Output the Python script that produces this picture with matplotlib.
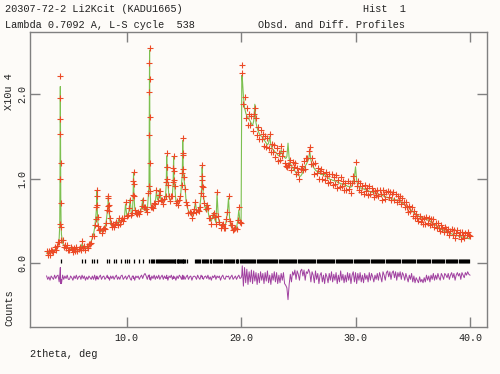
import numpy as np
import matplotlib
matplotlib.use("Agg")
import matplotlib.pyplot as plt

plt.rcParams['font.family'] = ['Liberation Mono', 'DejaVu Sans Mono']

# ---------------- data ----------------
tth_start, tth_step = 3.0, 0.1   # scan start / step (deg 2theta)

# calculated profile (x10^4 counts) on the scan grid
calc_grid = [
    0.12,0.12,0.13,0.13,0.14,0.14,0.15,0.16,0.17,0.19,   # 3
    0.22,0.30,2.09,0.34,0.24,0.21,0.20,0.19,0.19,0.18,   # 4
    0.18,0.17,0.17,0.16,0.16,0.16,0.16,0.16,0.16,0.17,   # 5
    0.18,0.23,0.19,0.18,0.19,0.19,0.20,0.21,0.23,0.26,   # 6
    0.30,0.34,0.42,0.55,0.85,0.46,0.38,0.37,0.38,0.39,   # 7
    0.40,0.42,0.48,0.60,0.80,0.56,0.46,0.44,0.44,0.45,   # 8
    0.46,0.46,0.47,0.52,0.48,0.49,0.50,0.52,0.54,0.70,   # 9
    0.58,0.56,0.62,0.76,0.60,0.58,1.07,0.66,0.58,0.58,   # 10
    0.59,0.60,0.61,0.65,0.76,0.64,0.62,0.62,0.63,0.80,   # 11
    2.52,0.70,0.65,0.66,0.68,0.72,0.85,0.75,0.78,0.88,   # 12
    0.74,0.72,0.72,0.74,0.80,1.27,0.95,0.78,0.74,0.76,   # 13
    0.82,1.25,0.90,0.74,0.72,0.70,0.72,0.78,0.95,1.45,   # 14
    1.00,0.90,0.72,0.66,0.62,0.60,0.58,0.57,0.58,0.62,   # 15
    0.72,0.63,0.60,0.62,0.68,0.80,1.14,0.82,0.70,0.62,   # 16
    0.70,0.62,0.55,0.52,0.50,0.55,0.60,0.52,0.48,0.82,   # 17
    0.56,0.47,0.45,0.44,0.43,0.43,0.44,0.50,0.60,0.77,   # 18
    0.52,0.44,0.42,0.41,0.40,0.40,0.42,0.50,0.63,0.50,   # 19
    0.48,2.20,1.98,1.84,1.78,1.74,1.72,1.70,1.68,1.65,   # 20
    1.63,1.68,1.88,1.66,1.60,1.56,1.53,1.51,1.50,1.48,   # 21
    1.46,1.44,1.42,1.40,1.42,1.50,1.40,1.36,1.34,1.33,   # 22
    1.31,1.30,1.28,1.27,1.28,1.34,1.30,1.27,1.25,1.24,   # 23
    1.26,1.42,1.24,1.18,1.15,1.13,1.11,1.09,1.07,1.05,   # 24
    1.04,1.03,1.03,1.05,1.08,1.12,1.15,1.17,1.20,1.23,   # 25
    1.32,1.22,1.17,1.14,1.12,1.10,1.09,1.08,1.07,1.06,   # 26
    1.05,1.05,1.04,1.06,1.03,1.02,1.01,1.00,0.99,0.99,   # 27
    0.98,0.98,0.97,0.98,0.96,0.95,0.95,0.94,0.94,0.93,   # 28
    0.93,0.92,0.92,0.91,0.91,0.90,0.90,0.92,0.96,1.02,   # 29
    1.14,0.98,0.92,0.90,0.89,0.89,0.88,0.88,0.87,0.87,   # 30
    0.86,0.86,0.85,0.85,0.84,0.84,0.83,0.83,0.83,0.82,   # 31
    0.82,0.81,0.81,0.80,0.80,0.79,0.79,0.78,0.78,0.77,   # 32
    0.77,0.77,0.76,0.76,0.75,0.75,0.75,0.74,0.74,0.73,   # 33
    0.72,0.71,0.70,0.69,0.68,0.67,0.66,0.65,0.64,0.62,   # 34
    0.61,0.60,0.59,0.58,0.57,0.56,0.55,0.54,0.54,0.53,   # 35
    0.53,0.52,0.52,0.51,0.51,0.50,0.49,0.48,0.47,0.46,   # 36
    0.45,0.44,0.43,0.42,0.41,0.40,0.40,0.39,0.38,0.37,   # 37
    0.37,0.36,0.36,0.35,0.35,0.34,0.34,0.33,0.33,0.33,   # 38
    0.32,0.32,0.31,0.31,0.31,0.30,0.30,0.30,0.30,0.29,   # 39
    0.29,                                                # 40
]

# difference (obs - calc) on the scan grid
diff_grid = [
    0.02,-0.02,0.01,-0.03,0.02,0.00,-0.02,0.03,-0.01,0.02,     # 3
    0.03,-0.05,0.12,-0.07,0.03,-0.02,0.02,-0.01,0.03,-0.02,    # 4
    -0.02,0.02,0.00,-0.03,0.02,-0.01,0.03,-0.02,0.01,0.02,     # 5
    -0.02,0.03,-0.01,0.02,-0.03,0.01,-0.02,0.02,0.00,-0.02,    # 6
    0.02,-0.02,0.03,-0.03,0.02,-0.02,0.01,0.03,-0.02,0.01,     # 7
    0.02,-0.02,0.00,0.03,-0.01,-0.03,0.02,-0.01,0.02,-0.02,    # 8
    0.01,0.03,-0.02,0.01,-0.02,0.02,0.03,-0.02,0.00,0.02,      # 9
    -0.02,0.01,0.03,-0.01,-0.03,0.02,0.01,-0.03,0.02,0.00,     # 10
    0.02,-0.02,0.01,0.03,-0.01,0.03,0.05,0.02,-0.02,0.03,      # 11
    0.03,-0.03,0.02,-0.01,0.03,-0.02,0.02,-0.01,0.03,-0.02,    # 12
    0.01,0.03,-0.02,0.02,-0.01,0.03,-0.03,0.02,0.00,0.03,      # 13
    -0.02,0.02,0.01,-0.03,0.02,-0.01,0.03,0.01,-0.02,0.03,     # 14
    0.02,-0.02,0.01,0.03,-0.02,0.01,0.02,-0.03,0.01,0.02,      # 15
    0.01,-0.02,0.03,0.00,-0.02,0.03,0.02,-0.02,0.01,0.02,      # 16
    -0.01,0.03,-0.02,0.01,-0.03,0.02,0.00,0.03,-0.02,0.02,     # 17
    0.00,0.02,-0.03,0.01,0.03,-0.01,-0.02,0.02,0.01,0.02,      # 18
    -0.02,0.01,0.03,-0.02,0.00,0.02,-0.02,0.01,0.03,-0.01,     # 19
    0.00,0.14,-0.10,0.12,-0.06,0.10,-0.08,0.07,-0.05,0.09,     # 20
    -0.07,0.08,-0.04,0.06,-0.08,0.05,-0.06,0.07,-0.03,0.05,    # 21
    -0.07,0.06,-0.04,0.08,-0.06,0.03,-0.08,0.05,-0.03,0.07,    # 22
    -0.05,0.06,-0.07,0.03,-0.06,0.05,-0.03,0.06,-0.07,-0.09,   # 23
    -0.12,-0.26,-0.08,0.04,-0.05,0.07,0.03,0.09,-0.02,0.08,    # 24
    0.04,-0.03,0.08,0.10,0.02,0.09,-0.03,0.07,0.05,0.10,       # 25
    0.06,-0.05,0.07,0.03,-0.06,0.08,-0.02,0.05,-0.07,0.03,     # 26
    0.06,-0.05,0.03,-0.07,0.05,0.01,-0.06,0.05,-0.03,0.07,     # 27
    -0.05,0.04,-0.03,0.06,-0.07,0.03,-0.05,0.08,-0.03,0.04,    # 28
    -0.06,0.03,-0.05,0.06,-0.03,0.05,-0.07,0.03,0.07,-0.05,    # 29
    0.06,-0.07,0.05,-0.03,0.06,-0.05,0.03,-0.06,0.05,-0.02,    # 30
    0.03,-0.05,0.06,-0.03,0.05,0.01,-0.05,0.03,-0.02,0.05,     # 31
    -0.03,0.06,0.01,-0.05,0.07,0.03,-0.03,0.06,0.08,0.01,      # 32
    0.07,-0.02,0.06,0.08,0.00,0.07,-0.03,0.06,0.01,0.07,       # 33
    -0.02,0.06,0.03,-0.03,0.05,0.00,-0.05,0.03,-0.02,0.05,     # 34
    -0.05,0.02,-0.06,0.00,-0.03,-0.06,0.01,-0.05,-0.02,-0.06,  # 35
    0.00,-0.05,0.03,-0.03,0.02,-0.05,0.03,-0.02,0.05,-0.03,    # 36
    0.03,-0.02,0.05,0.00,-0.03,0.05,0.02,-0.02,0.05,0.03,      # 37
    0.00,0.05,-0.02,0.03,0.06,0.00,0.05,-0.03,0.03,0.06,       # 38
    0.02,0.05,-0.02,0.06,0.03,0.00,0.06,0.03,0.07,0.04,        # 39
    0.03,                                                      # 40
]

# extra points measured on the flanks of the sharp peaks
peak_tth  = [4.15, 4.17, 4.18, 4.19, 4.21, 4.22, 4.24, 4.27,
             7.36, 7.38, 7.42, 7.45,
             8.36, 8.38, 8.42, 8.45,
             10.56, 10.58, 10.62, 10.64,
             11.95, 11.97, 11.98, 11.99, 12.01, 12.02, 12.03, 12.05,
             13.46, 13.48, 13.52, 13.54,
             14.06, 14.08, 14.12, 14.14,
             14.86, 14.88, 14.92, 14.94,
             16.56, 16.58, 16.62, 16.64,
             20.06]
peak_calc = [0.45, 0.95, 1.45, 1.85, 1.75, 1.25, 0.75, 0.45,
             0.65, 0.78, 0.70, 0.55,
             0.68, 0.76, 0.70, 0.62,
             0.80, 0.95, 0.95, 0.80,
             0.90, 1.50, 2.00, 2.35, 2.20, 1.75, 1.20, 0.85,
             0.95, 1.12, 1.15, 1.00,
             0.95, 1.12, 1.10, 0.98,
             1.05, 1.28, 1.30, 1.12,
             0.90, 1.02, 1.00, 0.90,
             2.22]
peak_diff = [0.02, 0.05, 0.08, 0.10, -0.05, -0.07, -0.04, -0.02,
             0.01, 0.01, -0.01, 0.00,
             0.00, 0.01, -0.01, 0.00,
             0.01, 0.02, -0.01, 0.00,
             0.01, 0.02, 0.03, 0.02, -0.02, -0.02, -0.01, 0.00,
             0.01, 0.02, -0.01, 0.00,
             0.01, 0.01, -0.01, 0.00,
             0.02, 0.02, -0.02, 0.00,
             0.01, 0.01, -0.01, 0.00,
             0.03]

# reflection positions (deg 2theta)
refl_pos = [
    4.22, 6.13, 6.36, 7.01, 7.18, 7.43, 8.27, 8.47, 8.85, 9.06, 9.51, 9.86,
    10.06, 10.24, 10.62, 11.09, 11.42,
    11.98, 12.10, 12.22, 12.30, 12.41, 12.55, 12.62, 12.70, 12.84, 12.90,
    12.97, 13.08, 13.16, 13.25, 13.33, 13.47, 13.55, 13.62, 13.70, 13.78,
    13.86, 13.95, 14.04, 14.12, 14.20, 14.26, 14.36, 14.45, 14.52, 14.60,
    14.70, 14.76, 14.82, 14.88, 14.94, 15.02, 15.10, 15.25,
    15.95, 16.06, 16.15, 16.27, 16.36, 16.44, 16.56, 16.64, 16.75, 16.83,
    16.95, 17.04, 17.12, 17.24, 17.33, 17.41, 17.52, 17.62, 17.70, 17.81,
    17.88, 17.99, 18.08, 18.17, 18.28, 18.36, 18.47, 18.55, 18.66, 18.74,
    18.85, 18.93, 19.02, 19.13, 19.21, 19.32, 19.40, 19.51, 19.60, 19.68,
    19.77, 19.88, 19.96, 20.05, 20.14, 20.25, 20.33, 20.43, 20.52, 20.61,
    20.71, 20.80, 20.88, 20.98, 21.07, 21.17, 21.25, 21.35, 21.44, 21.53,
    21.62, 21.72, 21.80, 21.90, 21.99, 22.08, 22.17, 22.27, 22.36, 22.45,
    22.54, 22.63, 22.72, 22.82, 22.90, 23.00, 23.09, 23.18, 23.27, 23.36,
    23.46, 23.55, 23.64, 23.73, 23.82, 23.91, 24.01, 24.10, 24.19, 24.28,
    24.37, 24.47, 24.56, 24.65, 24.74, 24.83, 24.93, 25.02, 25.11, 25.20,
    25.30, 25.39, 25.48, 25.57, 25.66, 25.76, 25.85, 25.94, 26.03, 26.13,
    26.22, 26.31, 26.40, 26.49, 26.59, 26.68, 26.77, 26.86, 26.96, 27.05,
    27.14, 27.23, 27.33, 27.42, 27.51, 27.60, 27.70, 27.79, 27.88, 27.97,
    28.07, 28.16, 28.25, 28.34, 28.44, 28.53, 28.62, 28.71, 28.81, 28.90,
    28.99, 29.08, 29.18, 29.27, 29.36, 29.45, 29.55, 29.64, 29.73, 29.83,
    29.92, 30.01, 30.10, 30.20, 30.29, 30.38, 30.48, 30.57, 30.66, 30.75,
    30.85, 30.94, 31.03, 31.13, 31.22, 31.31, 31.40, 31.50, 31.59, 31.68,
    31.78, 31.87, 31.96, 32.06, 32.15, 32.24, 32.34, 32.43, 32.52, 32.62,
    32.71, 32.80, 32.90, 32.99, 33.08, 33.18, 33.27, 33.36, 33.46, 33.55,
    33.64, 33.74, 33.83, 33.92, 34.02, 34.11, 34.20, 34.30, 34.39, 34.49,
    34.58, 34.67, 34.77, 34.86, 34.95, 35.05, 35.14, 35.24, 35.33, 35.42,
    35.52, 35.61, 35.70, 35.80, 35.89, 35.99, 36.08, 36.17, 36.27, 36.36,
    36.46, 36.55, 36.64, 36.74, 36.83, 36.93, 37.02, 37.11, 37.21, 37.30,
    37.40, 37.49, 37.58, 37.68, 37.77, 37.87, 37.96, 38.05, 38.15, 38.24,
    38.34, 38.43, 38.53, 38.62, 38.71, 38.81, 38.90, 39.00, 39.09, 39.19,
    39.28, 39.37, 39.47, 39.56, 39.66, 39.75, 39.85, 39.94,
]

diff_offset = -0.17
x_ticks = [10.0, 20.0, 30.0, 40.0]
y_ticks = [0.0, 1.0, 2.0]

# ---------------- assemble ----------------
n = len(calc_grid)
tth_grid = np.round(tth_start + tth_step * np.arange(n), 2)
tth = np.concatenate([tth_grid, peak_tth])
calc = np.concatenate([calc_grid, peak_calc])
diff = np.concatenate([diff_grid, peak_diff])
order = np.argsort(tth, kind="stable")
tth, calc, diff = tth[order], calc[order], diff[order]
obs = calc + diff

# ---------------- figure ----------------
W, H = 500, 374
bg = '#fdfbf8'
fig = plt.figure(figsize=(W / 100, H / 100), dpi=100, facecolor=bg)
L, R, T, B = 30, 487, 32, 327
ax = fig.add_axes([L / W, 1 - B / H, (R - L) / W, (B - T) / H], facecolor=bg)

ax.plot(tth, calc, color='#7cc050', lw=0.8, zorder=1)
ax.plot(tth, obs, linestyle='none', marker='+', markersize=4.5,
        markeredgewidth=0.8, color='#ec4a26', zorder=2)
ax.plot(tth, diff + diff_offset, color='#a040a0', lw=0.7, zorder=3)
ax.vlines(refl_pos, 0.005, 0.055, color='black', lw=0.9, zorder=3)

ax.set_xlim(1.55, 41.49)
ax.set_ylim(-0.753, 2.734)

ax.set_xticks(x_ticks)
ax.set_xticklabels([f"{v:.1f}" for v in x_ticks])
ax.set_yticks(y_ticks)
ax.set_yticklabels([f"{v:.1f}" for v in y_ticks], rotation=90, va='center')
ax.tick_params(axis='both', direction='in', length=7, width=1, color='#808080',
               labelsize=7.2, labelcolor='#222222', top=True, right=True)
ax.tick_params(axis='x', pad=4)
ax.tick_params(axis='y', pad=2)
for s in ax.spines.values():
    s.set_color('#808080')
    s.set_linewidth(1)

fs = 7.4
tc = '#222222'
def ftext(x, y, s, **kw):
    fig.text(x / W, 1 - y / H, s, fontsize=fs, color=tc, **kw)

ftext(5, 9, "20307-72-2 Li2Kcit (KADU1665)", ha='left', va='center')
ftext(363, 9, "Hist  1", ha='left', va='center')
ftext(5, 25, "Lambda 0.7092 A, L-S cycle  538", ha='left', va='center')
ftext(258, 25, "Obsd. and Diff. Profiles", ha='left', va='center')
ftext(9, 92, "X10u 4", ha='center', va='center', rotation=90)
ftext(9, 308, "Counts", ha='center', va='center', rotation=90)
ftext(30, 354, "2theta, deg", ha='left', va='center')

fig.savefig("out.png", dpi=100, facecolor=bg)
